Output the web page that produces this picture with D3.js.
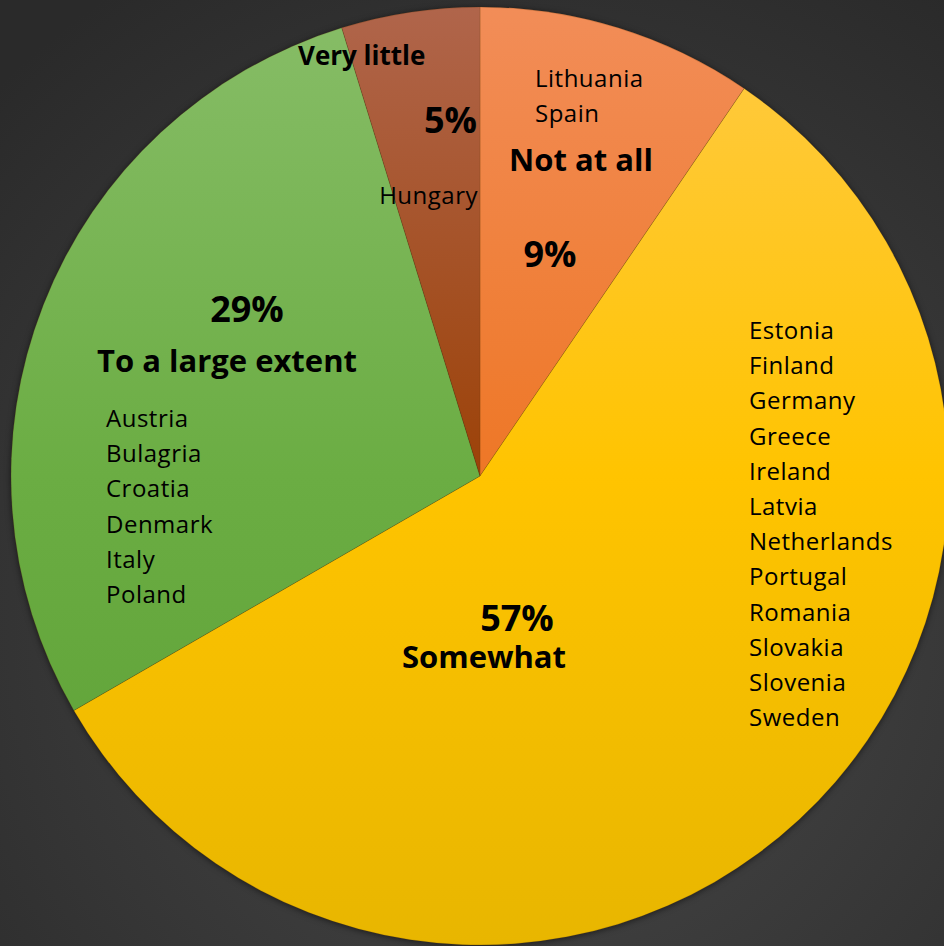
<!DOCTYPE html>
<html>
<head>
<meta charset="utf-8">
<script src="https://cdn.jsdelivr.net/npm/d3@7"></script>
<style>
  html, body { margin: 0; padding: 0; background: #333; }
  svg { display: block; }
  text { font-family: "Open Sans", "Noto Sans", sans-serif; fill: #000; }
</style>
</head>
<body>
<div id="chart"></div>
<script>
// answers, in clockwise order starting at 12 o'clock
const categories = ["Not at all", "Somewhat", "To a large extent", "Very little"];
const countries = [
  ["Lithuania", "Spain"],
  ["Estonia", "Finland", "Germany", "Greece", "Ireland", "Latvia", "Netherlands",
   "Portugal", "Romania", "Slovakia", "Slovenia", "Sweden"],
  ["Austria", "Bulagria", "Croatia", "Denmark", "Italy", "Poland"],
  ["Hungary"]
];
const values = [2, 12, 6, 1];   // number of countries per answer
const pctLabels = ["9%", "57%", "29%", "5%"];   // as printed on the chart

// gradient stops per slice: top, middle, bottom
const sliceColors = [
  ["#F28D58", "#EE7726", "#E96A12"],
  ["#FFCA45", "#FFC400", "#E8B600"],
  ["#87BD67", "#6BAD43", "#5C9F34"],
  ["#B0654B", "#9C4208", "#963A00"]
];

const W = 944, H = 946;
const cx = 480, cy = 476, r = 469;

// label placement, offsets from the pie centre
const labelPos = [
  { name: [101, -305, "middle"], pct: [70, -209, "middle"], list: [55, -389, "start"] },
  { name: [4, 192, "middle"], pct: [37, 155, "middle"], list: [269, -137, "start"] },
  { name: [-253, -104, "middle"], pct: [-233, -154, "middle"], list: [-374, -49, "start"] },
  { name: [-182, -411, "start"], pct: [-3, -343, "end"], list: [-2, -272, "end"] }
];
const lineStep = 35.2;

const svg = d3.select("#chart")
  .append("svg")
  .attr("width", W)
  .attr("height", H);

const defs = svg.append("defs");

const bg = defs.append("radialGradient")
  .attr("id", "bg")
  .attr("cx", "56%").attr("cy", "66%").attr("r", "80%");
bg.append("stop").attr("offset", "0%").attr("stop-color", "#4a4a4a");
bg.append("stop").attr("offset", "100%").attr("stop-color", "#2a2a2a");

sliceColors.forEach((c, i) => {
  const g = defs.append("linearGradient")
    .attr("id", `slice${i}`)
    .attr("gradientUnits", "userSpaceOnUse")
    .attr("x1", 0).attr("y1", -r)
    .attr("x2", 0).attr("y2", r);
  g.append("stop").attr("offset", "0%").attr("stop-color", c[0]);
  g.append("stop").attr("offset", "50%").attr("stop-color", c[1]);
  g.append("stop").attr("offset", "100%").attr("stop-color", c[2]);
});

const shadow = defs.append("filter")
  .attr("id", "shadow")
  .attr("color-interpolation-filters", "sRGB")
  .attr("x", "-10%").attr("y", "-10%").attr("width", "120%").attr("height", "120%");
shadow.append("feDropShadow")
  .attr("dx", 0).attr("dy", 1)
  .attr("stdDeviation", 3)
  .attr("flood-color", "#000")
  .attr("flood-opacity", 0.55);

svg.append("rect")
  .attr("width", W)
  .attr("height", H)
  .attr("fill", "url(#bg)");

const pie = d3.pie().sort(null).value(d => d);
const arcs = pie(values);
const arc = d3.arc().innerRadius(0).outerRadius(r);

const g = svg.append("g")
  .attr("transform", `translate(${cx},${cy})`);

g.append("g")
  .attr("filter", "url(#shadow)")
  .selectAll("path")
  .data(arcs)
  .enter()
  .append("path")
  .attr("d", arc)
  .attr("fill", (d, i) => `url(#slice${i})`)
  .attr("stroke", "rgba(90,50,0,0.25)")
  .attr("stroke-width", 0.8);

arcs.forEach((d, i) => {
  const p = labelPos[i];

  g.append("text")
    .attr("x", p.name[0])
    .attr("y", p.name[1])
    .attr("text-anchor", p.name[2])
    .style("font-size", i === 3 ? "26px" : "31px")
    .style("font-weight", "bold")
    .text(categories[i]);

  g.append("text")
    .attr("x", p.pct[0])
    .attr("y", p.pct[1])
    .attr("text-anchor", p.pct[2])
    .style("font-size", "36px")
    .style("font-weight", "bold")
    .text(pctLabels[i]);

  countries[i].forEach((c, j) => {
    g.append("text")
      .attr("x", p.list[0])
      .attr("y", p.list[1] + j * lineStep)
      .attr("text-anchor", p.list[2])
      .style("font-size", "24px")
      .style("letter-spacing", "0.5px")
      .text(c);
  });
});
</script>
</body>
</html>
